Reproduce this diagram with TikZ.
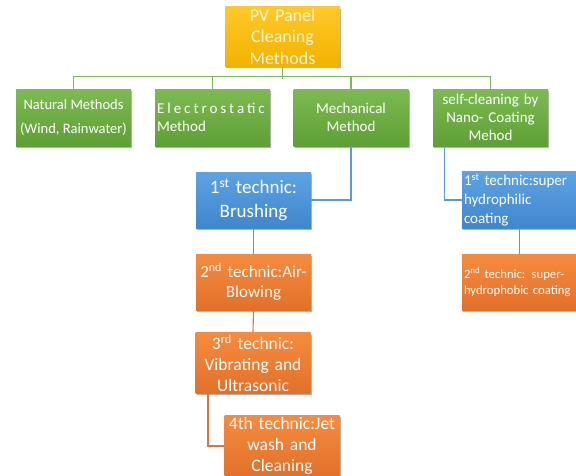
\documentclass[tikz,border=0pt]{standalone}
\usepackage{fontspec}
\setmainfont{Carlito}
\usetikzlibrary{shadows}
\definecolor{yTop}{HTML}{FFC928}
\definecolor{yBot}{HTML}{F2B200}
\definecolor{yText}{HTML}{FFF6D8}
\definecolor{gTop}{HTML}{7DBB52}
\definecolor{gBot}{HTML}{5E9F36}
\definecolor{bTop}{HTML}{5EA3E2}
\definecolor{bBot}{HTML}{3E86CE}
\definecolor{oTop}{HTML}{F68B3F}
\definecolor{oBot}{HTML}{E2702A}
\definecolor{gLine}{HTML}{7DB85A}
\definecolor{bLine}{HTML}{5B9BD5}
\definecolor{oLine}{HTML}{D9743A}
\tikzset{
  box/.style={rectangle, minimum width=115pt, minimum height=57pt, inner sep=2pt,
    text=white, drop shadow={shadow xshift=1pt, shadow yshift=-2pt, opacity=0.3, fill=black}},
  ybox/.style={box, top color=yTop, bottom color=yBot, align=center, text width=111pt,
    font=\fontsize{18}{21.5}\selectfont, text=yText},
  gbox/.style={box, top color=gTop, bottom color=gBot, text width=111pt,
    font=\fontsize{15}{18}\selectfont},
  bbox/.style={box, top color=bTop, bottom color=bBot, text width=111pt},
  obox/.style={box, top color=oTop, bottom color=oBot, text width=111pt},
  gconn/.style={draw=gLine, line width=1.1pt},
  bconn/.style={draw=bLine, line width=1.1pt},
  oconn/.style={draw=oLine, line width=1.1pt},
}
\begin{document}
\begin{tikzpicture}[x=1pt,y=-1pt]
\useasboundingbox (0,0) rectangle (576,475);

\node[ybox] (top) at (282.5,36.5) {PV Panel\\Cleaning\\Methods};
\node[gbox, text width={}, align=center, font=\fontsize{14.5}{24}\selectfont] (nat) at (73.5,117.5) {Natural Methods\\(Wind, Rainwater)};
\node[gbox, align=left] (elec) at (212.5,117.5) {{\addfontfeature{LetterSpace=20}Electrostatic}\\Method};
\node[gbox, align=center] (mech) at (351,117.5) {Mechanical\\Method};
\node[gbox, align=center] (sc) at (490.5,117.5) {self-cleaning by\\Nano- Coating\\Mehod};

\node[bbox, align=center, minimum height=56pt, font=\fontsize{19}{24}\selectfont] (b1) at (253.5,200) {1\textsuperscript{st} technic:\\Brushing};
\node[obox, align=center, minimum height=56pt, font=\fontsize{17}{20}\selectfont] (o2) at (253.5,282) {2\textsuperscript{nd}\ technic:Air-\\Blowing};
\node[obox, align=center, minimum height=58pt, font=\fontsize{17.5}{21}\selectfont] (o3) at (253,363) {3\textsuperscript{rd}\ technic:\\Vibrating and\\Ultrasonic};
\node[obox, align=center, minimum height=57pt, font=\fontsize{17.5}{21}\selectfont] (o4) at (282,446) {4th technic:Jet\\wash and\\Cleaning};

\node[bbox, align=left, minimum height=56pt, font=\fontsize{15}{19}\selectfont] (rb) at (519.5,200) {1\textsuperscript{st} technic:super\\hydrophilic\\coating};
\node[obox, align=left, minimum height=56pt, font=\fontsize{12.7}{16}\selectfont] (ro) at (519.5,282) {2\textsuperscript{nd} technic: super-\\hydrophobic coating};

\draw[gconn] (top.south) -- ++(0,12);
\draw[gconn] (nat.north) -- ++(0,-12) -| (sc.north);
\draw[gconn] (elec.north) -- ++(0,-12);
\draw[gconn] (mech.north) -- ++(0,-12);
\draw[bconn] (mech.south) |- (b1.east);
\draw[bconn] ([xshift=-46pt]sc.south) |- (rb.west);
\draw[oconn] (b1.south) -- (o2.north);
\draw[oconn] (o2.south) -- (o3.north);
\draw[oconn] ([xshift=-45pt]o3.south) |- (o4.west);
\draw[oconn] (rb.south) -- (ro.north);
\end{tikzpicture}
\end{document}
